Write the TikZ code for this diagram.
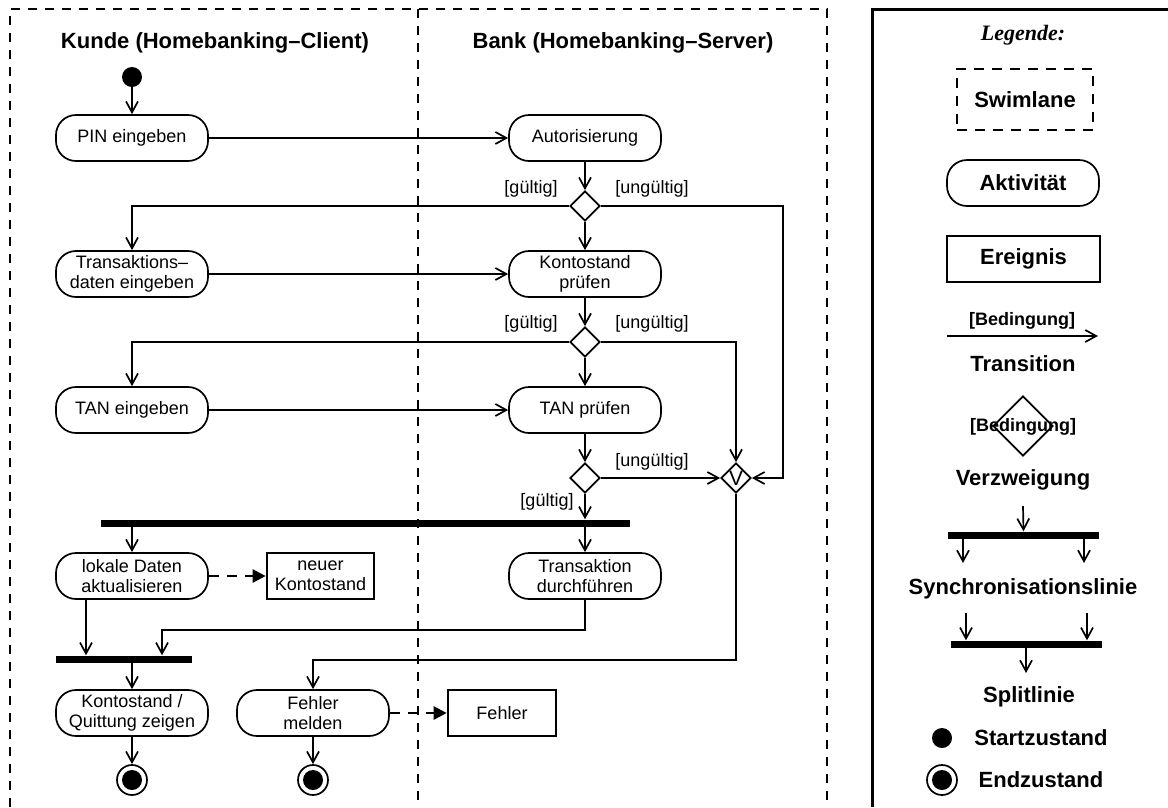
\documentclass[tikz,border=0pt]{standalone}
\usepackage{fontspec}
\setmainfont{Liberation Sans}
\newfontfamily\legfont{Liberation Serif}
\usetikzlibrary{arrows.meta,shapes.geometric,calc}

\begin{document}
\begin{tikzpicture}[x=1pt,y=-1pt,
  lw/.style={line width=1.7pt},
  txt/.style={font=\fontsize{18}{20}\selectfont},
  activity/.style={draw, lw, rounded corners=20pt, minimum width=152pt,
    minimum height=46pt, inner sep=0pt, align=center, txt},
  event/.style={draw, line width=2.6pt, minimum height=46pt, inner sep=0pt,
    align=center, txt},
  decision/.style={draw, lw, diamond, aspect=1, minimum width=30pt,
    minimum height=30pt, inner sep=0pt},
  bar/.style={fill, inner sep=0pt, minimum height=7pt},
  startst/.style={circle, fill, inner sep=0pt, minimum size=20pt},
  endst/.style={circle, draw, lw, inner sep=0pt, minimum size=30pt,
    path picture={\fill (path picture bounding box.center) circle (10pt);}},
  flow/.style={lw, -{Straight Barb[length=11pt,width=12pt]}},
  objflow/.style={line width=2.4pt, dash pattern=on 10pt off 8pt,
    -{Triangle[length=13pt,width=13pt]}},
  lane/.style={line width=1.8pt, dash pattern=on 9pt off 8pt},
  guard/.style={txt},
  title/.style={font=\fontsize{22}{26}\selectfont\bfseries},
  legtext/.style={font=\fontsize{22}{26}\selectfont\bfseries},
  legsmall/.style={font=\fontsize{18}{20}\selectfont\bfseries},
]
\useasboundingbox (0,0) rectangle (1168,807);

% swimlanes
\draw[lane] (10,807) -- (10,9) -- (827,9) -- (827,807);
\draw[lane] (418,9) -- (418,807);
\node[title] (tcl) at (215,43) {Kunde (Homebanking--Client)};
\node[title] (tsv) at (623,43) {Bank (Homebanking--Server)};

% activities, decisions, bars
\node[startst] (start) at (132,77) {};
\node[activity] (pin) at (132,138) {PIN eingeben};
\node[activity] (auth) at (585,138) {Autorisierung};
\node[decision] (d1) at (585,206) {};
\node[activity] (tdat) at (132,274) {Transaktions--\\daten eingeben};
\node[activity] (kont) at (585,274) {Kontostand\\prüfen};
\node[decision] (d2) at (585,342) {};
\node[activity] (tan) at (132,410) {TAN eingeben};
\node[activity] (tanp) at (585,410) {TAN prüfen};
\node[decision] (d3) at (585,478) {};
\node[decision, font=\fontsize{21}{22}\selectfont] (merge) at (736,478) {V};
\node[bar, minimum width=529pt] (fork) at (365.5,523) {};
\node[activity] (lok) at (132,576) {lokale Daten\\aktualisieren};
\node[event, minimum width=107pt] (neu) at (320.5,576) {neuer\\Kontostand};
\node[activity] (trans) at (585,576) {Transaktion\\durchführen};
\node[bar, minimum width=136pt] (join) at (124,659) {};
\node[activity] (kq) at (132,713) {Kontostand /\\Quittung zeigen};
\node[activity] (fm) at (313,713) {Fehler\\melden};
\node[event, minimum width=108pt] (err) at (502,713) {Fehler};
\node[endst] (end1) at (132,780) {};
\node[endst] (end2) at (313,780) {};

% guards
\node[guard] (g1) at (531,189) {[gültig]};
\node[guard] (u1) at (652,189) {[ungültig]};
\node[guard] (g2) at (531,324) {[gültig]};
\node[guard] (u2) at (652,324) {[ungültig]};
\node[guard] (u3) at (652,462) {[ungültig]};
\node[guard] (g3) at (547,502) {[gültig]};

% transitions
\draw[flow] (start) -- (pin);
\draw[flow] (pin) -- (auth);
\draw[flow] (auth) -- (d1);
\draw[flow] (d1.west) -| (tdat.north);
\draw[flow] (d1.east) -- ++(182,0) |- (merge.east);
\draw[flow] (d1) -- (kont);
\draw[flow] (tdat) -- (kont);
\draw[flow] (kont) -- (d2);
\draw[flow] (d2.west) -| (tan.north);
\draw[flow] (d2.east) -| (merge.north);
\draw[flow] (d2) -- (tanp);
\draw[flow] (tan) -- (tanp);
\draw[flow] (tanp) -- (d3);
\draw[flow] (d3) -- (merge);
\draw[flow] (d3.south) -- (d3.south |- fork.north);
\draw[flow] (fork.south -| lok.north) -- (lok.north);
\draw[flow] (fork.south -| trans.north) -- (trans.north);
\draw[objflow] (lok) -- (neu);
\draw[flow] ([xshift=-46pt]lok.south) -- ([xshift=-46pt]lok.south |- join.north);
\draw[flow] (trans.south) -- ++(0,30) -| ([xshift=38pt]join.north);
\draw[flow] (join.south -| kq.north) -- (kq.north);
\draw[flow] (merge.south) -- ++(0,166) -| (fm.north);
\draw[objflow] (fm) -- (err);
\draw[flow] (kq) -- (end1);
\draw[flow] (fm) -- (end2);

% legend
\draw[line width=3pt] (872,807) -- (872,9) -- (1168,9);
\node[font=\legfont\fontsize{22}{26}\selectfont\bfseries\itshape] (leg) at (1023,35) {Legende:};
\node[draw, lane, line width=2.4pt, dash pattern=on 10pt off 8pt, minimum width=136pt,
  minimum height=61pt, inner sep=0pt, legtext] (lswim) at (1025,99.5) {Swimlane};
\node[activity, legtext] (lact) at (1023,183) {Aktivität};
\node[event, minimum width=153pt, legtext] (lev) at (1023.5,259) {Ereignis};
\coordinate (ltA) at (947,336);
\coordinate (ltB) at (1098,336);
\draw[flow] (ltA) -- (ltB);
\node[legsmall] (lcond) at (1022,321) {[Bedingung]};
\node[legtext] (ltr) at (1023,364) {Transition};
\node[decision, minimum width=60pt, minimum height=60pt] (ldec) at (1023,426) {};
\node[legsmall] (ldect) at (1023,427) {[Bedingung]};
\node[legtext] (lverz) at (1023,480) {Verzweigung};
\coordinate (lf0) at (1023,506);
\node[bar, minimum width=151pt] (lbar1) at (1023.5,535) {};
\draw[flow] (lf0) -- (lbar1.north);
\coordinate (lf1) at (963,563);
\coordinate (lf2) at (1084,563);
\draw[flow] (lbar1.south -| lf1) -- (lf1);
\draw[flow] (lbar1.south -| lf2) -- (lf2);
\node[legtext] (lsync) at (1023,589) {Synchronisationslinie};
\coordinate (lj1) at (966,613);
\coordinate (lj2) at (1087,613);
\node[bar, minimum width=151pt] (lbar2) at (1026.5,644) {};
\draw[flow] (lj1) -- (lj1 |- lbar2.north);
\draw[flow] (lj2) -- (lj2 |- lbar2.north);
\coordinate (lj3) at (1026,673);
\draw[flow] (lbar2.south -| lj3) -- (lj3);
\node[legtext] (lsplit) at (1029,697) {Splitlinie};
\node[startst] (lstart) at (942,738) {};
\node[legtext] (lstartt) at (1041,738) {Startzustand};
\node[endst] (lend) at (942,780) {};
\node[legtext] (lendt) at (1041,780) {Endzustand};
\end{tikzpicture}
\end{document}
